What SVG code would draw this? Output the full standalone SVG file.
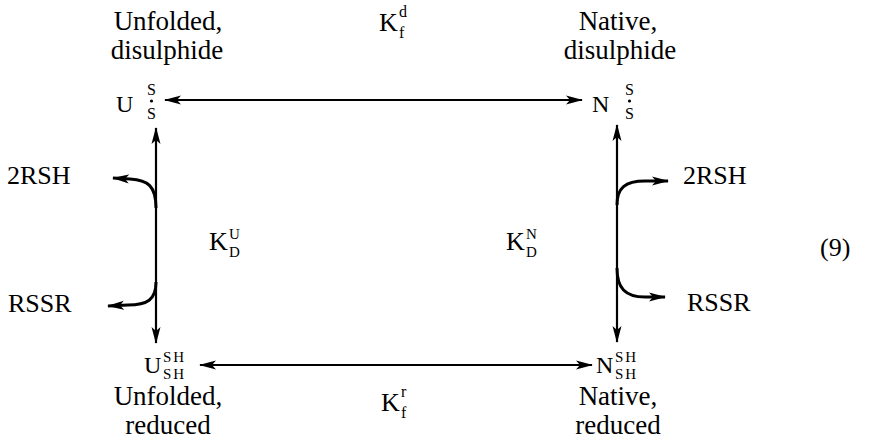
<svg xmlns="http://www.w3.org/2000/svg" width="876" height="446" viewBox="0 0 876 446">
<style>
text{font-family:"Liberation Serif","Times New Roman",serif;fill:#000}
.lbl{font-size:27px;text-anchor:middle}
.big{font-size:24px}
.k{font-size:26px}
.sm{font-size:16px}
.ks{font-size:15px}
.ss{font-size:15px;letter-spacing:2px}
.ln{stroke:#000;stroke-width:2.2;fill:none}
.cv{stroke:#000;stroke-width:3;fill:none}
</style>
<defs>
<marker id="ah" markerUnits="userSpaceOnUse" markerWidth="18" markerHeight="10" refX="16" refY="5" orient="auto-start-reverse">
<path d="M0,0.5 L17,5 L0,9.5 L4,5 Z" fill="#000"/>
</marker>
</defs>
<rect width="876" height="446" fill="#fff"/>
<g id="labels">
<text class="lbl" x="168" y="30">Unfolded,</text>
<text class="lbl" x="167" y="59">disulphide</text>
<text class="lbl" x="618" y="30">Native,</text>
<text class="lbl" x="620" y="59">disulphide</text>
<text class="lbl" x="168" y="405">Unfolded,</text>
<text class="lbl" x="168" y="434">reduced</text>
<text class="lbl" x="618" y="405">Native,</text>
<text class="lbl" x="618" y="434">reduced</text>
</g>
<g id="node-U-SS">
<text class="big" x="116" y="112">U<tspan class="sm" x="147" y="95">S</tspan><tspan class="sm" x="147" y="119">S</tspan></text>
<circle cx="151.5" cy="101" r="1.6" fill="#000"/>
</g>
<g id="node-N-SS">
<text class="big" x="592" y="112">N<tspan class="sm" x="625" y="95">S</tspan><tspan class="sm" x="625" y="119">S</tspan></text>
<circle cx="629.5" cy="101" r="1.6" fill="#000"/>
</g>
<g id="node-U-SH">
<text class="big" x="144" y="373">U<tspan class="ss" x="163" y="362">SH</tspan><tspan class="ss" x="163" y="379">SH</tspan></text>
</g>
<g id="node-N-SH">
<text class="big" x="596" y="373">N<tspan class="ss" x="615" y="362">SH</tspan><tspan class="ss" x="615" y="379">SH</tspan></text>
</g>
<g id="reagents">
<text class="k" x="7" y="184">2RSH</text>
<text class="k" x="8" y="312">RSSR</text>
<text class="k" x="683" y="184">2RSH</text>
<text class="k" x="687" y="311">RSSR</text>
</g>
<g id="constants">
<text class="k" x="379" y="31">K<tspan class="sm" x="399" y="17">d</tspan><tspan class="sm" x="399" y="38">f</tspan></text>
<text class="k" x="381" y="411">K<tspan class="sm" x="401" y="397">r</tspan><tspan class="sm" x="401" y="418">f</tspan></text>
<text class="k" x="209" y="250">K<tspan class="ks" x="229" y="239">U</tspan><tspan class="ks" x="229" y="257">D</tspan></text>
<text class="k" x="506" y="250">K<tspan class="ks" x="526" y="239">N</tspan><tspan class="ks" x="526" y="257">D</tspan></text>
<text class="k" x="820" y="256">(9)</text>
</g>
<g id="connectors">
<line class="ln" x1="165" y1="100" x2="582" y2="100" marker-start="url(#ah)" marker-end="url(#ah)"/>
<line class="ln" x1="200" y1="365" x2="592" y2="365" marker-start="url(#ah)" marker-end="url(#ah)"/>
<line class="ln" x1="156" y1="128" x2="156" y2="343" marker-start="url(#ah)" marker-end="url(#ah)"/>
<line class="ln" x1="617" y1="125" x2="617" y2="342" marker-start="url(#ah)" marker-end="url(#ah)"/>
<path class="cv" d="M156,208 C156,186 148,180 130,179 L113,178" marker-end="url(#ah)"/>
<path class="cv" d="M156,282 C156,300 147,305 128,305 L108,306" marker-end="url(#ah)"/>
<path class="cv" d="M617,205 C617,188 625,181 645,181 L668,181" marker-end="url(#ah)"/>
<path class="cv" d="M617,268 C617,288 625,297 645,297 L665,297" marker-end="url(#ah)"/>
</g>
</svg>
